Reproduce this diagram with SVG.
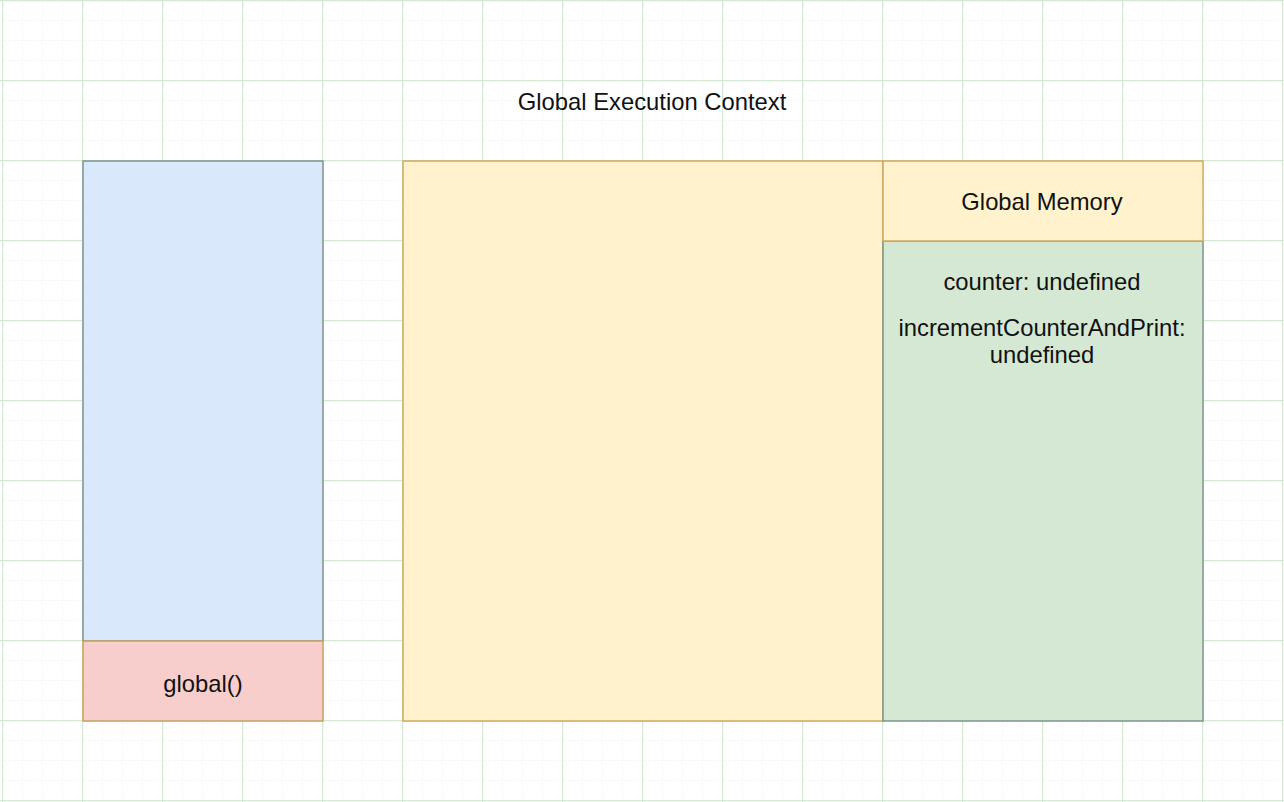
<svg xmlns="http://www.w3.org/2000/svg" width="1284" height="802" viewBox="0 0 1284 802">
<defs>
<pattern id="minor" x="2" y="0" width="20" height="20" patternUnits="userSpaceOnUse">
<path d="M0 0H20M0 0V20" fill="none" stroke="#d8e4f0" stroke-width="1" stroke-dasharray="1,2"/>
</pattern>
<pattern id="major" x="2" y="0" width="80" height="80" patternUnits="userSpaceOnUse">
<path d="M0.5 0.5H80M0.5 0.5V80" fill="none" stroke="#d5e8d4" stroke-width="1.5"/>
</pattern>
</defs>
<style>
.t{font-family:"Liberation Sans",Arial,sans-serif;font-size:23.8px;fill:#111;text-anchor:middle}
</style>
<rect width="1284" height="802" fill="#fff"/>
<rect width="1284" height="802" fill="url(#minor)"/>
<rect width="1284" height="802" fill="url(#major)"/>
<g id="title"><text class="t" x="652" y="109.5">Global Execution Context</text></g>
<g id="stack"><rect x="83" y="161" width="240" height="480" fill="#dae8fc" stroke="#7a978a" stroke-width="1.5"/></g>
<g id="global"><rect x="83" y="641" width="240" height="80" fill="#f8cecc" stroke="#c9a060" stroke-width="1.5"/><text class="t" x="203" y="691.5">global()</text></g>
<g id="context"><rect x="403" y="161" width="480" height="560" fill="#fff2cc" stroke="#d0a860" stroke-width="1.5"/></g>
<g id="memory-body"><rect x="883" y="241" width="320" height="480" fill="#d5e8d4" stroke="#7a978a" stroke-width="1.5"/>
<text class="t" x="1042" y="289.5">counter: undefined</text>
<text class="t" x="1042" y="335.5">incrementCounterAndPrint:</text>
<text class="t" x="1042" y="362.5">undefined</text></g>
<g id="memory-header"><rect x="883" y="161" width="320" height="80" fill="#fff2cc" stroke="#d0a860" stroke-width="1.5"/><text class="t" x="1042" y="209.5">Global Memory</text></g>
<g id="connectors"></g>
</svg>
